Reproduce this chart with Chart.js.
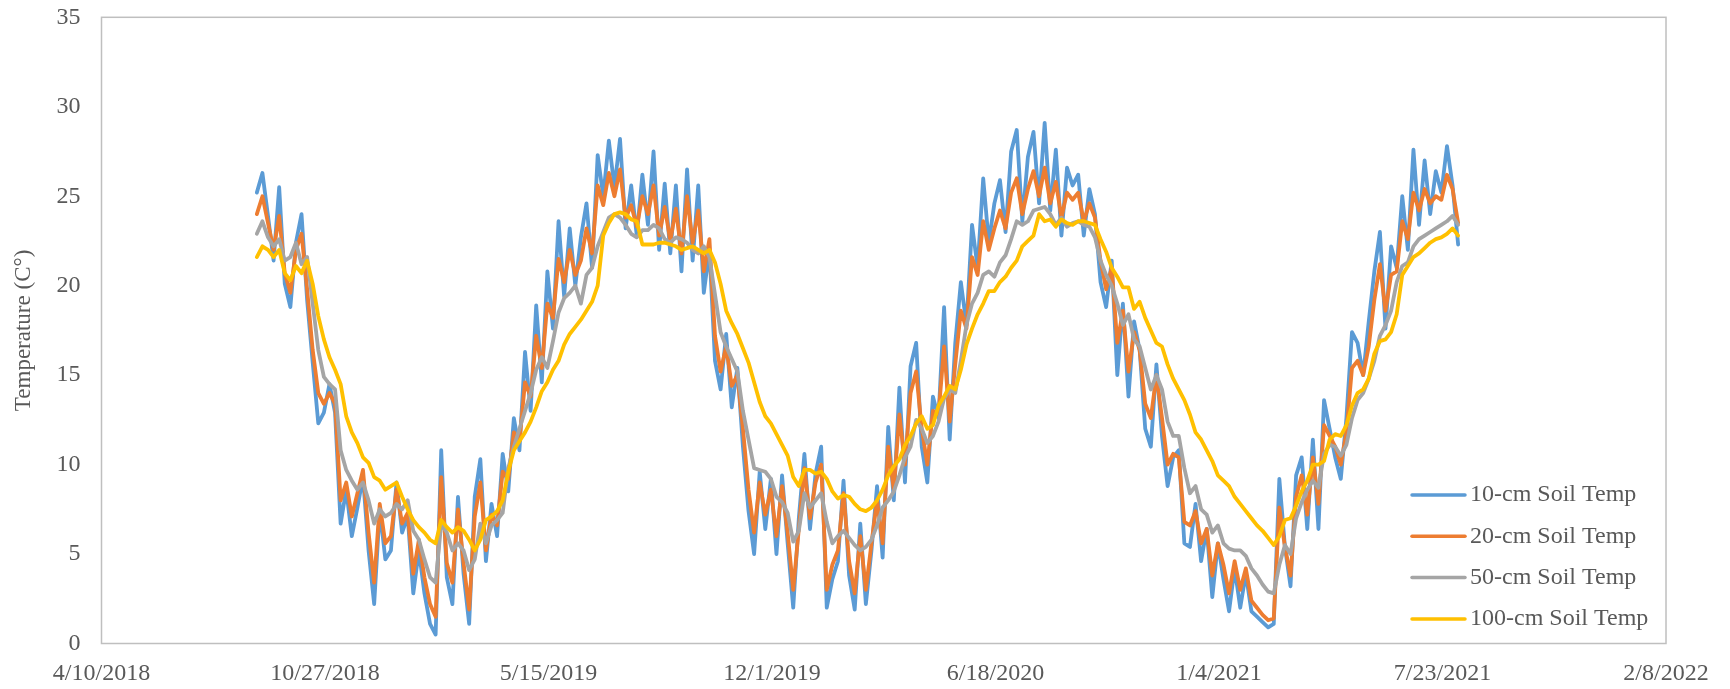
<!DOCTYPE html>
<html>
<head>
<meta charset="utf-8">
<title>Soil Temperature</title>
<script src="https://cdn.jsdelivr.net/npm/chart.js@4.4.1/dist/chart.umd.min.js"></script>
<style>
  html, body { margin: 0; padding: 0; background: #fff; }
</style>
</head>
<body>
<canvas id="soilChart" width="1730" height="689"></canvas>
<script>
// x axis is days since 4/10/2018, readings every 5 days
const startDay = 139;
const stepDays = 5;
const tickLabels = ['4/10/2018', '10/27/2018', '5/15/2019', '12/1/2019', '6/18/2020', '1/4/2021', '7/23/2021', '2/8/2022'];
const seriesNames = ['10-cm Soil Temp', '20-cm Soil Temp', '50-cm Soil Temp', '100-cm Soil Temp'];
const seriesColors = ['#5B9BD5', '#ED7D31', '#A5A5A5', '#FFC000'];

const soil10 = [
  25.2, 26.3, 23.9, 21.4, 25.5, 20.1, 18.8, 22.4, 24.0, 19.2, 15.7, 12.3, 12.9, 14.5, 12.9, 6.7, 8.6, 6.0, 7.6, 9.3, 5.2, 2.2, 7.5, 4.7, 5.2, 9.0, 6.2, 7.1, 2.8, 5.2, 2.8, 1.1, 0.5, 10.8, 3.7, 2.2, 8.2, 3.9, 1.1, 8.2, 10.3,
  4.6, 7.8, 6.0, 10.6, 8.5, 12.6, 10.8, 16.3, 13.0, 18.9, 14.6, 20.8, 17.6, 23.6, 19.4, 23.2, 20.0, 22.7, 24.6, 21.0, 27.3, 25.0, 28.1, 25.5, 28.2, 23.2, 25.6, 22.8, 26.2, 23.4, 27.5, 22.0, 25.7, 21.8, 25.6, 20.8, 26.5, 21.4, 25.6, 19.6,
  22.0, 15.8, 14.2, 17.3, 13.2, 15.4, 11.0, 7.4, 5.0, 9.6, 6.4, 9.2, 5.0, 9.4, 5.6, 2.0, 7.0, 10.6, 6.4, 9.5, 11.0, 2.0, 3.6, 4.6, 9.1, 3.8, 1.9, 6.7, 2.2, 5.2, 8.8, 4.8, 12.1, 8.0, 14.3, 9.0, 15.5, 16.8, 11.0, 9.0, 13.8,
  12.6, 18.8, 11.4, 16.8, 20.2, 17.8, 23.4, 21.0, 26.0, 22.4, 24.6, 25.9, 23.0, 27.5, 28.7, 23.6, 27.2, 28.6, 24.6, 29.1, 24.2, 27.6, 22.8, 26.6, 25.6, 26.2, 22.8, 25.4, 24.0, 20.2, 18.8, 21.4, 15.0, 19.0, 13.8, 18.0, 16.4, 12.0, 11.0, 15.6, 11.6,
  8.8, 10.4, 10.8, 5.6, 5.4, 7.8, 4.6, 6.4, 2.6, 5.6, 3.6, 1.8, 4.2, 2.0, 3.9, 1.8, 1.5, 1.2, 0.9, 1.1, 9.2, 5.4, 3.2, 9.4, 10.4, 6.4, 11.4, 6.4, 13.6, 12.0, 10.4, 9.2, 12.6, 17.4, 16.8, 15.0, 18.0, 20.8, 23.0, 17.6, 22.2, 21.0,
  25.0, 22.0, 27.6, 23.4, 27.0, 24.0, 26.4, 25.2, 27.8, 25.6, 22.3
];

const soil20 = [
  24.0, 25.0, 23.5, 22.0, 23.9, 20.7, 19.6, 22.0, 22.9, 19.8, 16.4, 14.0, 13.4, 14.0, 13.4, 8.0, 9.0, 7.1, 8.4, 9.7, 6.2, 3.4, 7.8, 5.6, 6.0, 8.6, 6.7, 7.3, 3.9, 5.8, 3.7, 2.2, 1.5, 9.3, 4.5, 3.4, 7.5, 4.5, 1.9, 7.1, 9.0,
  5.2, 7.2, 6.6, 9.6, 9.2, 11.8, 11.3, 14.6, 13.8, 17.2, 15.4, 19.0, 18.2, 21.5, 20.2, 22.0, 20.6, 21.4, 23.2, 21.8, 25.6, 24.5, 26.3, 25.0, 26.5, 23.8, 24.5, 23.3, 25.0, 24.0, 25.6, 22.8, 24.4, 22.5, 24.3, 21.8, 25.0, 22.4, 24.2, 20.8,
  22.6, 17.2, 15.2, 16.6, 14.4, 15.0, 12.0, 8.6, 6.2, 9.0, 7.2, 8.6, 6.0, 8.8, 6.2, 3.0, 6.4, 9.8, 7.0, 9.0, 10.0, 3.0, 4.4, 5.2, 8.4, 4.6, 2.8, 6.0, 3.0, 5.6, 8.0, 5.6, 11.0, 8.6, 12.8, 10.0, 14.0, 15.2, 12.0, 10.0, 13.0,
  12.8, 16.6, 12.4, 15.6, 18.6, 17.6, 21.6, 20.6, 23.6, 22.0, 23.2, 24.2, 23.2, 25.2, 26.0, 24.0, 25.4, 26.4, 25.0, 26.6, 24.6, 25.8, 23.8, 25.2, 24.8, 25.2, 23.6, 24.6, 23.8, 21.4, 19.8, 21.0, 16.8, 18.6, 15.2, 17.4, 16.4, 13.4, 12.6, 15.0, 12.6,
  10.0, 10.6, 10.4, 6.8, 6.6, 7.4, 5.6, 6.4, 3.8, 5.6, 4.4, 2.8, 4.6, 3.0, 4.2, 2.4, 2.0, 1.6, 1.3, 1.4, 7.6, 5.4, 3.8, 8.2, 9.4, 7.2, 10.4, 7.8, 12.2, 11.6, 11.0, 10.0, 11.8, 15.4, 15.8, 15.0, 16.6, 19.2, 21.2, 18.6, 20.6, 20.8,
  23.6, 22.6, 25.2, 24.2, 25.4, 24.6, 25.0, 24.8, 26.2, 25.4, 23.5
];

const soil50 = [
  22.9, 23.6, 22.7, 22.2, 22.6, 21.4, 21.6, 22.4, 21.2, 21.6, 19.0, 16.4, 14.9, 14.5, 14.2, 10.8, 9.7, 9.1, 8.6, 9.0, 8.0, 6.7, 7.5, 7.1, 7.3, 7.8, 7.5, 8.0, 6.3, 5.8, 4.7, 3.7, 3.4, 6.7, 6.2, 5.2, 5.6, 5.2, 4.1, 4.7, 6.7,
  5.6, 6.6, 6.9, 7.3, 9.8, 11.0, 12.0, 13.0, 14.0, 15.3, 16.0, 15.4, 16.9, 18.5, 19.3, 19.6, 20.0, 19.0, 20.6, 21.0, 22.2, 23.0, 23.8, 24.0, 23.8, 23.4, 22.9, 22.7, 23.1, 23.1, 23.4, 23.2, 22.6, 22.4, 22.7, 22.6, 22.4, 22.0, 21.8, 22.2,
  21.6, 19.5, 17.4, 16.6, 15.9, 15.2, 13.0, 11.4, 9.8, 9.7, 9.6, 9.2, 8.2, 7.9, 7.3, 5.7, 6.3, 8.4, 7.6, 8.0, 8.4, 6.8, 5.6, 6.0, 6.3, 5.9, 5.5, 5.2, 5.4, 5.8, 6.6, 7.6, 8.0, 8.5, 9.4, 10.4, 11.0, 12.5, 12.0, 11.2, 11.6,
  12.4, 13.7, 14.2, 14.0, 15.8, 17.8, 19.0, 19.6, 20.6, 20.8, 20.5, 21.3, 21.7, 22.6, 23.6, 23.4, 23.6, 24.2, 24.3, 24.4, 24.0, 23.4, 23.8, 23.3, 23.5, 23.6, 23.4, 23.3, 22.7, 21.4, 20.6, 20.0, 19.0, 17.8, 18.4, 17.0, 16.6, 15.4, 14.2, 15.0, 14.2,
  12.4, 11.6, 11.6, 9.8, 8.4, 8.8, 7.5, 7.2, 6.2, 6.6, 5.6, 5.3, 5.2, 5.2, 4.9, 4.2, 3.8, 3.3, 2.9, 2.8, 4.4, 5.5, 5.0, 7.0, 7.9, 8.6, 9.1, 8.7, 10.6, 11.1, 11.0, 10.5, 11.1, 12.6, 13.6, 14.0, 14.8, 15.8, 17.2, 17.8, 18.6, 20.2,
  21.1, 21.3, 22.2, 22.6, 22.8, 23.0, 23.2, 23.4, 23.6, 23.9, 23.4
];

const soil100 = [
  21.6, 22.2, 22.0, 21.6, 22.0, 20.7, 20.3, 21.1, 20.7, 21.4, 20.1, 18.3, 17.0, 16.0, 15.3, 14.5, 12.7, 11.8, 11.2, 10.4, 10.1, 9.3, 9.1, 8.6, 8.8, 9.0, 8.2, 7.5, 6.9, 6.5, 6.2, 5.8, 5.6, 6.9, 6.5, 6.2, 6.5, 6.3, 5.8, 5.2, 5.8,
  6.9, 7.1, 7.4, 8.0, 9.6, 10.8, 11.3, 11.8, 12.4, 13.2, 14.1, 14.6, 15.3, 15.8, 16.7, 17.3, 17.7, 18.1, 18.6, 19.1, 20.0, 22.8, 23.5, 24.0, 24.1, 24.0, 23.7, 23.6, 22.3, 22.3, 22.3, 22.4, 22.4, 22.3, 22.2, 22.0, 22.1, 22.2, 22.0, 21.8,
  22.0, 21.3, 20.1, 18.6, 17.9, 17.3, 16.5, 15.7, 14.6, 13.5, 12.7, 12.3, 11.7, 11.1, 10.5, 9.3, 8.8, 9.7, 9.7, 9.5, 9.6, 9.2, 8.5, 8.1, 8.3, 8.2, 7.8, 7.5, 7.4, 7.6, 8.0, 8.6, 9.4, 9.9, 10.3, 11.1, 11.6, 12.3, 12.7, 12.0, 12.2,
  13.3, 13.8, 14.4, 14.2, 15.3, 16.7, 17.6, 18.4, 19.0, 19.7, 19.7, 20.2, 20.5, 21.0, 21.4, 22.2, 22.5, 22.8, 24.0, 23.6, 23.7, 23.3, 23.7, 23.5, 23.4, 23.6, 23.6, 23.5, 23.4, 22.6, 21.9, 21.0, 20.5, 19.9, 19.9, 18.7, 19.1, 18.2, 17.5, 16.8, 16.6,
  15.6, 14.8, 14.2, 13.6, 12.8, 11.8, 11.4, 10.8, 10.2, 9.4, 9.1, 8.8, 8.2, 7.8, 7.4, 7.0, 6.6, 6.3, 5.9, 5.5, 6.0, 6.9, 7.0, 7.7, 8.5, 9.1, 10.0, 10.0, 10.2, 11.4, 11.7, 11.6, 12.2, 13.3, 14.0, 14.2, 14.8, 16.2, 16.9, 17.0, 17.4, 18.4,
  20.6, 21.1, 21.6, 21.8, 22.1, 22.4, 22.6, 22.7, 22.9, 23.2, 22.8
];

const FONT = 'Liberation Serif, "Times New Roman", serif';
const TEXT = '#595959';

function toPoints(values) {
  return values.map((v, i) => ({ x: startDay + i * stepDays, y: v }));
}

const allSeries = [soil10, soil20, soil50, soil100];

// gray box round the plot area
const plotBox = {
  id: 'plotBox',
  beforeDatasetsDraw(chart) {
    const { ctx, chartArea } = chart;
    ctx.save();
    ctx.strokeStyle = '#BFBFBF';
    ctx.lineWidth = 1.5;
    ctx.strokeRect(chartArea.left, chartArea.top, chartArea.right - chartArea.left, chartArea.bottom - chartArea.top);
    ctx.restore();
  }
};

// legend sits inside the plot, bottom right
const insideLegend = {
  id: 'insideLegend',
  afterDraw(chart) {
    const { ctx, chartArea } = chart;
    const x0 = chartArea.right - 254;
    const y0 = chartArea.bottom - 148.5;
    ctx.save();
    ctx.font = '24px ' + FONT;
    ctx.textBaseline = 'middle';
    ctx.textAlign = 'left';
    chart.data.datasets.forEach((ds, i) => {
      const y = y0 + i * 41.3;
      ctx.strokeStyle = ds.borderColor;
      ctx.lineWidth = 3.5;
      ctx.lineCap = 'round';
      ctx.beginPath();
      ctx.moveTo(x0, y);
      ctx.lineTo(x0 + 53, y);
      ctx.stroke();
      ctx.fillStyle = TEXT;
      ctx.fillText(ds.label, x0 + 58, y);
    });
    ctx.restore();
  }
};

new Chart(document.getElementById('soilChart'), {
  type: 'line',
  data: {
    datasets: allSeries.map((vals, i) => ({
      label: seriesNames[i],
      data: toPoints(vals),
      borderColor: seriesColors[i],
      backgroundColor: seriesColors[i],
      borderWidth: 3.8,
      pointRadius: 0,
      tension: 0,
      borderJoinStyle: 'round',
      borderCapStyle: 'round',
      order: 4 - i
    }))
  },
  options: {
    responsive: false,
    devicePixelRatio: 1,
    animation: false,
    layout: { padding: { left: 0, right: 64, top: 0, bottom: 0 } },
    plugins: {
      legend: { display: false },
      tooltip: { enabled: false }
    },
    scales: {
      x: {
        type: 'linear',
        min: 0,
        max: 1400,
        grid: { display: false, drawTicks: false },
        border: { display: false },
        ticks: {
          stepSize: 200,
          autoSkip: false,
          maxRotation: 0,
          padding: 16,
          color: TEXT,
          font: { family: FONT, size: 24 },
          callback: (value, index) => tickLabels[index]
        },
        afterFit: s => { s.height = 45.5; }
      },
      y: {
        min: 0,
        max: 35,
        grid: { display: false, drawTicks: false },
        border: { display: false },
        ticks: {
          stepSize: 5,
          padding: 21,
          color: TEXT,
          font: { family: FONT, size: 24 }
        },
        title: {
          display: true,
          text: 'Temperature (C°)',
          color: TEXT,
          font: { family: FONT, size: 23 },
          padding: { top: 10, bottom: 0 }
        },
        afterFit: s => {
          s.width = 101.5;
          s.paddingTop = 17.3;
          s.paddingBottom = 0;
        }
      }
    }
  },
  plugins: [plotBox, insideLegend]
});
</script>
</body>
</html>
